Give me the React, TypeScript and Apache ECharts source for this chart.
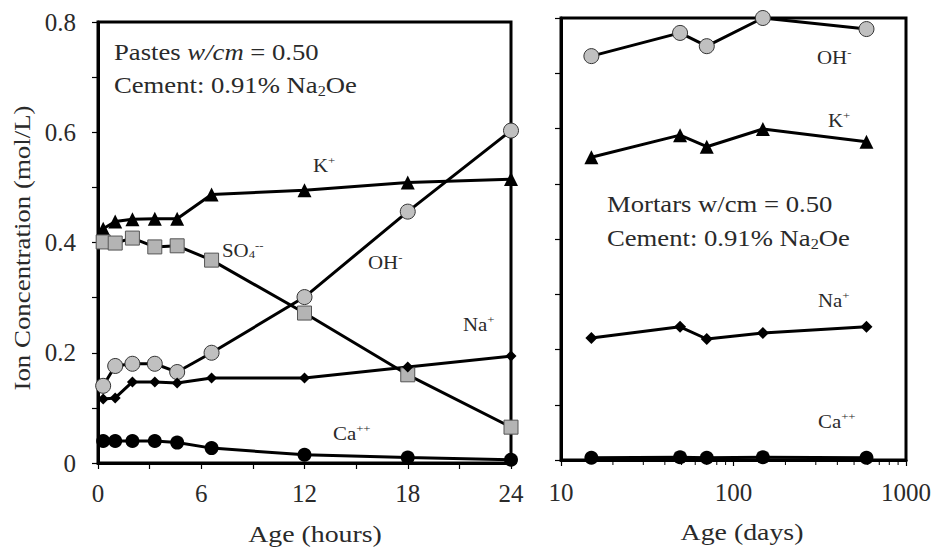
import React, { useEffect, useRef } from "react";
import * as echarts from "echarts";

// ---- data ----
const hours = [0.3, 1, 2, 3.3, 4.6, 6.6, 12, 18, 24];
const pasteK = [0.425, 0.438, 0.442, 0.443, 0.443, 0.487, 0.495, 0.509, 0.515];
const pasteSO4 = [0.401, 0.399, 0.408, 0.392, 0.394, 0.368, 0.272, 0.16, 0.065];
const pasteOH = [0.14, 0.176, 0.18, 0.18, 0.165, 0.2, 0.301, 0.456, 0.603];
const pasteNa = [0.116, 0.118, 0.147, 0.147, 0.145, 0.154, 0.154, 0.174, 0.194];
const pasteCa = [0.04, 0.04, 0.04, 0.04, 0.037, 0.027, 0.015, 0.01, 0.006];

const days = [15, 49, 70, 148, 590];
const mortarOH = [0.731, 0.773, 0.749, 0.8, 0.78];
const mortarK = [0.548, 0.588, 0.567, 0.599, 0.576];
const mortarNa = [0.221, 0.241, 0.219, 0.23, 0.241];
const mortarCa = [0.004, 0.005, 0.004, 0.005, 0.004];

const yTickLabels = ["0", "0.2", "0.4", "0.6", "0.8"];
const hourTickLabels = ["0", "6", "12", "18", "24"];
const dayTickLabels = ["10", "100", "1000"];
const dayMinorTicks = [20, 30, 40, 50, 60, 70, 80, 90, 200, 300, 400, 500, 600, 700, 800, 900];

const FONT = '"Liberation Serif", "Times New Roman", serif';
const TXT = "#2a2a2a";
const STRETCH = 1.16;

const zip = (xs: number[], ys: number[]) => xs.map((x, i) => [x, ys[i]]);

export default function App() {
  const ref = useRef<HTMLDivElement>(null);
  useEffect(() => {
    if (!ref.current) return;
    const chart = echarts.init(ref.current, undefined, { renderer: "svg" });

    const lineBase = (name: string, xi: number, data: number[][], symbol: string, size: number, item: any) => ({
      name,
      type: "line",
      xAxisIndex: xi,
      yAxisIndex: xi,
      data,
      symbol,
      symbolSize: size,
      clip: false,
      lineStyle: { color: "#000", width: 3 },
      itemStyle: item,
      emphasis: { disabled: true },
      z: 3,
    });
    const black = { color: "#000" };
    const grayCircle = { color: "#c0c0c0", borderColor: "#333", borderWidth: 1 };
    const graySquare = { color: "#b4b4b4", borderColor: "#555", borderWidth: 1 };

    const ionRich = {
      b: { fontSize: 18, fontFamily: FONT, fill: TXT, lineHeight: 20, verticalAlign: "bottom" },
      sup: { fontSize: 11, fontFamily: FONT, fill: TXT, lineHeight: 11, verticalAlign: "top" },
      sub: { fontSize: 11, fontFamily: FONT, fill: TXT, lineHeight: 11, verticalAlign: "bottom" },
    };
    const noteRich = {
      b: { fontSize: 23, fontFamily: FONT, fill: TXT, lineHeight: 26, verticalAlign: "middle" },
      i: { fontSize: 23, fontFamily: FONT, fill: TXT, lineHeight: 26, fontStyle: "italic", verticalAlign: "middle" },
      sub: { fontSize: 14, fontFamily: FONT, fill: TXT, lineHeight: 14, verticalAlign: "bottom" },
    };
    const label = (text: string, x: number, y: number, rich: any) => ({
      type: "text",
      x,
      y,
      scaleX: STRETCH,
      z: 10,
      style: { text, rich, align: "left", verticalAlign: "middle", fill: TXT, font: `18px ${FONT}` },
    });
    const plain = (text: string, x: number, y: number, rot = 0, sx = STRETCH) => ({
      type: "text",
      x,
      y,
      rotation: rot,
      scaleX: sx,
      z: 10,
      style: { text, align: "center", verticalAlign: "middle", fill: TXT, font: `24px ${FONT}` },
    });

    const yLabelFmt = (v: number) => {
      const k = Math.round(v * 10);
      return k % 2 === 0 ? yTickLabels[k / 2] : "";
    };
    const hourFmt = (v: number) => (Math.round(v) % 6 === 0 ? hourTickLabels[Math.round(v) / 6] : "");
    const dayFmt = (v: number) => dayTickLabels[Math.round(Math.log10(v)) - 1] ?? "";

    const axisCommon = {
      axisLine: { show: true, onZero: false, lineStyle: { color: "#000", width: 3 } },
      axisTick: { show: true, inside: false, length: 6, lineStyle: { color: "#000", width: 1.2 } },
      splitLine: { show: false },
      axisLabel: { color: TXT, fontFamily: FONT, fontSize: 25, margin: 10 },
    };

    chart.setOption({
      animation: false,
      grid: [
        { left: 98, top: 22, width: 413, height: 441, show: true, borderColor: "#000", borderWidth: 3 },
        { left: 561, top: 18, width: 346, height: 442, show: true, borderColor: "#000", borderWidth: 3 },
      ],
      xAxis: [
        {
          ...axisCommon,
          type: "value",
          gridIndex: 0,
          min: 0,
          max: 24,
          interval: 3,
          axisLabel: { ...axisCommon.axisLabel, formatter: hourFmt, margin: 18 },
        },
        {
          ...axisCommon,
          type: "log",
          logBase: 10,
          gridIndex: 1,
          min: 10,
          max: 1000,
          axisLabel: { ...axisCommon.axisLabel, formatter: dayFmt, margin: 20 },
        },
      ],
      yAxis: [
        {
          ...axisCommon,
          type: "value",
          gridIndex: 0,
          min: 0,
          max: 0.8,
          interval: 0.1,
          axisLabel: { ...axisCommon.axisLabel, formatter: yLabelFmt, margin: 22 },
        },
        {
          ...axisCommon,
          type: "value",
          gridIndex: 1,
          min: 0,
          max: 0.8,
          interval: 0.1,
          axisLabel: { show: false },
        },
      ],
      series: [
        lineBase("K+", 0, zip(hours, pasteK), "triangle", 14, black),
        lineBase("SO4--", 0, zip(hours, pasteSO4), "rect", 14, graySquare),
        lineBase("OH-", 0, zip(hours, pasteOH), "circle", 15, grayCircle),
        lineBase("Na+", 0, zip(hours, pasteNa), "diamond", 11, black),
        lineBase("Ca++", 0, zip(hours, pasteCa), "circle", 14, black),
        lineBase("OH- mortar", 1, zip(days, mortarOH), "circle", 15, grayCircle),
        lineBase("K+ mortar", 1, zip(days, mortarK), "triangle", 14, black),
        lineBase("Na+ mortar", 1, zip(days, mortarNa), "diamond", 12, black),
        lineBase("Ca++ mortar", 1, zip(days, mortarCa), "circle", 14, black),
        {
          type: "custom",
          xAxisIndex: 1,
          yAxisIndex: 1,
          data: dayMinorTicks.map((d) => [d, 0]),
          silent: true,
          clip: false,
          renderItem: (_p: any, api: any) => {
            const pt = api.coord([api.value(0), 0]);
            return {
              type: "line",
              shape: { x1: pt[0], y1: pt[1] + 1, x2: pt[0], y2: pt[1] + 5 },
              style: { stroke: "#000", lineWidth: 1 },
            };
          },
          z: 1,
        },
      ],
      graphic: [
        plain("Ion Concentration (mol/L)", 22, 248, Math.PI / 2, 1.12),
        plain("Age (hours)", 315, 534),
        plain("Age (days)", 742, 532),
        label("{b|Pastes }{i|w/cm}{b| = 0.50}", 114, 52, noteRich),
        label("{b|Cement: 0.91% Na}{sub|2}{b|Oe}", 114, 85, noteRich),
        label("{b|Mortars w/cm = 0.50}", 607, 204, noteRich),
        label("{b|Cement: 0.91% Na}{sub|2}{b|Oe}", 607, 238, noteRich),
        label("{b|K}{sup|+}", 313, 165, ionRich),
        label("{b|SO}{sub|4}{sup|--}", 222, 250, ionRich),
        label("{b|OH}{sup|-}", 368, 262, ionRich),
        label("{b|Na}{sup|+}", 463, 324, ionRich),
        label("{b|Ca}{sup|++}", 333, 433, ionRich),
        label("{b|OH}{sup|-}", 817, 57, ionRich),
        label("{b|K}{sup|+}", 828, 120, ionRich),
        label("{b|Na}{sup|+}", 818, 300, ionRich),
        label("{b|Ca}{sup|++}", 818, 421, ionRich),
      ],
    });
    return () => chart.dispose();
  }, []);
  return <div ref={ref} style={{ position: "fixed", left: 0, top: 0, width: 934, height: 548, background: "#fff" }} />;
}
